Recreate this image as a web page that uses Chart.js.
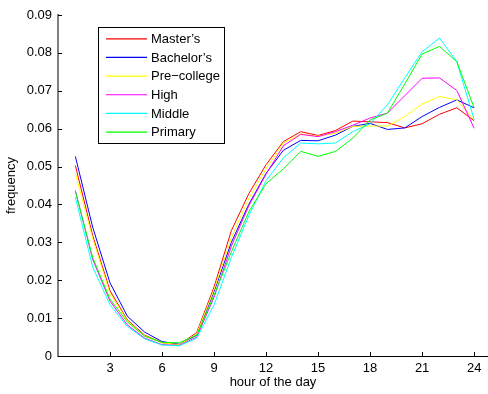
<!DOCTYPE html>
<html>
<head>
<meta charset="utf-8">
<script src="https://cdn.jsdelivr.net/npm/chart.js@4.4.1/dist/chart.umd.min.js"></script>
<style>
html,body{margin:0;padding:0;background:#fff;}
#wrap{width:488px;height:394px;position:relative;}
</style>
</head>
<body>
<div id="wrap"><canvas id="c" width="488" height="394"></canvas></div>
<script>
const hours = [1,2,3,4,5,6,7,8,9,10,11,12,13,14,15,16,17,18,19,20,21,22,23,24];
const seriesNames = ["Master\u2019s","Bachelor\u2019s","Pre\u2212college","High","Middle","Primary"];
const seriesColors = ["#ff0000","#0000ff","#ffff00","#ff00ff","#00ffff","#00ff00"];
const masters   = [0.0503,0.0318,0.0172,0.0095,0.0055,0.0035,0.0030,0.0062,0.0182,0.0331,0.0428,0.0505,0.0566,0.0592,0.0582,0.0595,0.0620,0.0618,0.0616,0.0602,0.0613,0.0638,0.0655,0.0621];
const bachelors = [0.0527,0.0340,0.0193,0.0105,0.0063,0.0038,0.0031,0.0055,0.0170,0.0300,0.0400,0.0482,0.0543,0.0569,0.0568,0.0583,0.0606,0.0614,0.0598,0.0602,0.0632,0.0656,0.0676,0.0655];
const precollege= [0.0483,0.0310,0.0165,0.0093,0.0053,0.0035,0.0030,0.0058,0.0175,0.0312,0.0415,0.0494,0.0562,0.0586,0.0580,0.0588,0.0606,0.0607,0.0607,0.0632,0.0665,0.0685,0.0676,0.0623];
const high      = [0.0437,0.0255,0.0145,0.0082,0.0047,0.0030,0.0028,0.0050,0.0155,0.0290,0.0396,0.0480,0.0555,0.0585,0.0579,0.0592,0.0609,0.0628,0.0641,0.0687,0.0733,0.0734,0.0701,0.0601];
const middle    = [0.0419,0.0235,0.0135,0.0078,0.0045,0.0029,0.0027,0.0047,0.0135,0.0260,0.0370,0.0463,0.0523,0.0562,0.0560,0.0562,0.0592,0.0613,0.0663,0.0734,0.0803,0.0839,0.0777,0.0624];
const primary   = [0.0435,0.0260,0.0150,0.0090,0.0052,0.0036,0.0035,0.0055,0.0160,0.0275,0.0380,0.0455,0.0494,0.0540,0.0527,0.0540,0.0575,0.0623,0.0641,0.0718,0.0797,0.0817,0.0777,0.0655];
const xTicks = [3,6,9,12,15,18,21,24];
const yTicks = [0,0.01,0.02,0.03,0.04,0.05,0.06,0.07,0.08,0.09];

const allSeries = [masters,bachelors,precollege,high,middle,primary];
const FONT = "'Liberation Sans', Arial, sans-serif";

const datasets = allSeries.map((s,i)=>({
  label: seriesNames[i],
  data: hours.map((h,j)=>({x:h,y:s[j]})),
  borderColor: seriesColors[i],
  backgroundColor: seriesColors[i],
  borderWidth: 1,
  pointRadius: 0,
  tension: 0,
  fill: false,
  order: allSeries.length - i
}));

const axesPlugin = {
  id: 'axesPlugin',
  afterDatasetsDraw(chart){
    const ctx = chart.ctx, ca = chart.chartArea;
    const xs = chart.scales.x, ys = chart.scales.y;
    ctx.save();
    ctx.strokeStyle = '#000'; ctx.lineWidth = 1;
    ctx.beginPath(); ctx.moveTo(ca.left, Math.round(ca.bottom)+0.5); ctx.lineTo(chart.width, Math.round(ca.bottom)+0.5); ctx.stroke();
    xTicks.forEach(v=>{
      const px = Math.round(xs.getPixelForValue(v))+0.5;
      ctx.beginPath(); ctx.moveTo(px, ca.bottom); ctx.lineTo(px, ca.bottom-4); ctx.stroke();
    });
    ctx.strokeStyle = '#808080'; ctx.lineWidth = 2;
    ctx.beginPath(); ctx.moveTo(ca.left, ca.top-1); ctx.lineTo(ca.left, ca.bottom+1); ctx.stroke();
    ctx.strokeStyle = '#000'; ctx.lineWidth = 1;
    yTicks.forEach(v=>{
      const py = Math.round(ys.getPixelForValue(v))+0.5;
      ctx.beginPath(); ctx.moveTo(ca.left, py); ctx.lineTo(ca.left+4, py); ctx.stroke();
    });
    const bx = 98.5, by = 27.5, bw = 126, bh = 116;
    ctx.fillStyle = '#fff'; ctx.fillRect(bx, by, bw, bh);
    ctx.strokeStyle = '#000'; ctx.lineWidth = 1; ctx.strokeRect(bx, by, bw, bh);
    ctx.font = '13px ' + FONT; ctx.textBaseline = 'middle'; ctx.textAlign = 'left';
    chart.data.datasets.forEach((ds,i)=>{
      const y = 38.8 + i*18.65;
      ctx.strokeStyle = ds.borderColor; ctx.lineWidth = 1.2;
      ctx.beginPath(); ctx.moveTo(106, y); ctx.lineTo(147, y); ctx.stroke();
      ctx.fillStyle = '#000';
      ctx.fillText(ds.label, 151, y+0.7);
    });
    ctx.restore();
  }
};

new Chart(document.getElementById('c'), {
  type: 'line',
  data: { datasets },
  options: {
    responsive: false,
    animation: false,
    devicePixelRatio: 1,
    layout: { padding: { top: 15, right: 0, left: 0, bottom: 0 } },
    plugins: { legend: { display: false }, tooltip: { enabled: false } },
    scales: {
      x: {
        type: 'linear', min: 0, max: 24.8,
        grid: { display: false, drawTicks: false }, border: { display: false },
        afterBuildTicks: s => { s.ticks = xTicks.map(v=>({value:v})); },
        afterFit: s => { s.height = 38; },
        ticks: { color: '#000', font: { family: FONT, size: 13 }, padding: 5, maxRotation: 0, autoSkip: false,
          callback: v => String(v) },
        title: { display: true, text: 'hour of the day', color: '#000', font: { family: FONT, size: 13 }, padding: { top: 4, bottom: 4 } }
      },
      y: {
        type: 'linear', min: 0, max: 0.09,
        grid: { display: false, drawTicks: false }, border: { display: false },
        afterBuildTicks: s => { s.ticks = yTicks.map(v=>({value:v})); },
        afterFit: s => { s.width = 58; },
        ticks: { color: '#000', font: { family: FONT, size: 13 }, padding: 6, autoSkip: false,
          callback: v => v === 0 ? '0' : v.toFixed(2) },
        title: { display: true, text: 'frequency', color: '#000', font: { family: FONT, size: 13 }, padding: { top: 4, bottom: 4 } }
      }
    }
  },
  plugins: [axesPlugin]
});
</script>
</body>
</html>
